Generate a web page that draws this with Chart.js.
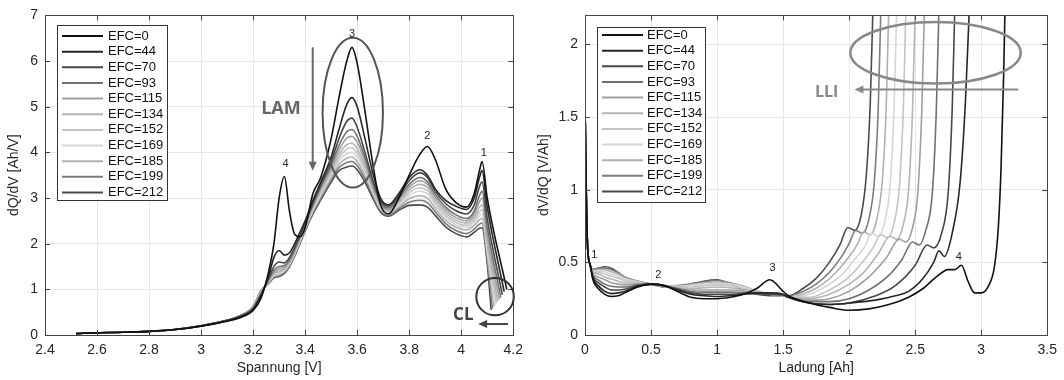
<!DOCTYPE html>
<html>
<head>
<meta charset="utf-8">
<script src="https://cdn.jsdelivr.net/npm/chart.js@4.4.0/dist/chart.umd.min.js"></script>
<style>
  html, body { margin: 0; padding: 0; background: #fff; }
  #wrap { position: relative; width: 1064px; height: 380px; }
  #left { position: absolute; left: 0; top: 0; }
  #right { position: absolute; left: 530px; top: 0; }
</style>
</head>
<body>
<div id="wrap">
  <canvas id="left" width="530" height="380"></canvas>
  <canvas id="right" width="534" height="380"></canvas>
</div>
<script>
const efcLabels = ["EFC=0", "EFC=44", "EFC=70", "EFC=93", "EFC=115", "EFC=134", "EFC=152", "EFC=169", "EFC=185", "EFC=199", "EFC=212"];
const efcColors = ["#111111", "#262626", "#474747", "#707070", "#a0a0a0", "#b4b4b4", "#c4c4c4", "#d6d6d6", "#b0b0b0", "#7c7c7c", "#4a4a4a"];

// left panel: dQ/dV over voltage
const voltage = [2.52, 2.6, 2.7, 2.8, 2.9, 3.0, 3.1, 3.15, 3.2, 3.23, 3.26, 3.28, 3.30, 3.32, 3.34, 3.36, 3.38, 3.40, 3.43, 3.46,
  3.50, 3.53, 3.56, 3.58, 3.60, 3.63, 3.66, 3.69, 3.72, 3.76, 3.80, 3.84, 3.87, 3.90, 3.94, 3.98, 4.02, 4.05, 4.07, 4.08, 4.10];
const dqdv = [
  [0.03,0.05,0.06,0.08,0.12,0.19,0.30,0.38,0.54,0.80,1.40,2.00,3.00,3.47,2.70,2.20,2.15,2.35,3.10,3.45,4.30,5.20,6.00,6.30,5.95,4.90,3.75,2.85,2.65,3.00,3.50,3.95,4.13,3.85,3.20,2.90,2.80,3.10,3.60,3.80,3.00],
  [0.03,0.05,0.06,0.08,0.12,0.20,0.31,0.40,0.56,0.85,1.30,1.70,1.85,1.75,1.80,2.00,2.25,2.50,2.95,3.35,3.90,4.50,5.05,5.20,5.00,4.30,3.55,3.00,2.85,3.10,3.45,3.62,3.50,3.20,2.95,2.82,2.75,3.00,3.45,3.60,2.80],
  [0.03,0.05,0.06,0.08,0.12,0.20,0.32,0.41,0.58,0.88,1.25,1.50,1.60,1.58,1.70,1.92,2.18,2.45,2.90,3.30,3.80,4.30,4.68,4.75,4.55,4.00,3.40,2.95,2.82,3.05,3.38,3.55,3.45,3.15,2.88,2.72,2.65,2.85,3.25,3.35,2.55],
  [0.03,0.05,0.06,0.08,0.12,0.20,0.32,0.41,0.59,0.90,1.22,1.42,1.50,1.52,1.65,1.88,2.15,2.42,2.86,3.25,3.72,4.15,4.45,4.50,4.35,3.88,3.32,2.90,2.78,3.00,3.30,3.45,3.36,3.08,2.80,2.63,2.55,2.72,3.05,3.15,2.35],
  [0.03,0.05,0.06,0.08,0.12,0.20,0.32,0.42,0.60,0.91,1.20,1.38,1.45,1.48,1.62,1.85,2.12,2.40,2.83,3.20,3.66,4.05,4.31,4.35,4.22,3.80,3.27,2.87,2.75,2.96,3.24,3.38,3.30,3.02,2.74,2.57,2.50,2.65,2.92,3.00,2.20],
  [0.03,0.05,0.06,0.08,0.12,0.20,0.32,0.42,0.60,0.92,1.18,1.35,1.40,1.45,1.60,1.83,2.10,2.38,2.80,3.16,3.60,3.95,4.17,4.20,4.08,3.70,3.22,2.84,2.72,2.92,3.18,3.30,3.23,2.96,2.68,2.51,2.45,2.58,2.80,2.85,2.05],
  [0.03,0.05,0.06,0.08,0.12,0.20,0.32,0.42,0.61,0.93,1.17,1.33,1.38,1.43,1.58,1.81,2.08,2.36,2.77,3.12,3.55,3.88,4.07,4.10,3.98,3.63,3.18,2.81,2.70,2.88,3.12,3.22,3.16,2.90,2.62,2.46,2.40,2.52,2.70,2.75,1.95],
  [0.03,0.05,0.06,0.08,0.12,0.20,0.32,0.42,0.61,0.94,1.16,1.31,1.35,1.41,1.56,1.79,2.06,2.34,2.74,3.08,3.50,3.81,3.97,4.00,3.89,3.56,3.14,2.78,2.68,2.85,3.06,3.15,3.09,2.85,2.57,2.41,2.35,2.46,2.61,2.65,1.85],
  [0.03,0.05,0.06,0.08,0.12,0.20,0.32,0.42,0.62,0.95,1.15,1.29,1.32,1.39,1.54,1.77,2.04,2.32,2.71,3.04,3.45,3.74,3.87,3.90,3.80,3.49,3.10,2.75,2.65,2.81,2.99,3.05,3.00,2.78,2.51,2.36,2.30,2.40,2.52,2.55,1.75],
  [0.03,0.05,0.06,0.08,0.12,0.20,0.32,0.42,0.62,0.96,1.14,1.27,1.30,1.37,1.52,1.75,2.02,2.30,2.68,3.00,3.40,3.67,3.78,3.80,3.71,3.42,3.05,2.72,2.62,2.77,2.91,2.95,2.90,2.70,2.44,2.29,2.22,2.32,2.43,2.45,1.65],
  [0.03,0.05,0.06,0.08,0.12,0.20,0.32,0.42,0.63,0.97,1.13,1.25,1.28,1.35,1.50,1.73,2.00,2.28,2.65,2.96,3.35,3.60,3.68,3.70,3.62,3.35,3.00,2.69,2.60,2.73,2.84,2.85,2.80,2.62,2.37,2.22,2.15,2.25,2.34,2.35,1.55]
];
const endVoltage = [4.175, 4.165, 4.158, 4.152, 4.146, 4.14, 4.135, 4.13, 4.125, 4.12, 4.115];
const endDqdv = [1.0, 0.95, 0.88, 0.82, 0.78, 0.74, 0.70, 0.66, 0.62, 0.58, 0.55];

// right panel: dV/dQ over charge
const ladungHead = [0, 0.01, 0.02, 0.04, 0.06, 0.1, 0.15, 0.2, 0.25, 0.3, 0.4, 0.5, 0.6, 0.7, 0.8, 0.9, 1.0, 1.1, 1.2, 1.3, 1.4, 1.5];
const dvdqHead = [
  [1.60,0.95,0.60,0.48,0.38,0.32,0.28,0.265,0.27,0.29,0.33,0.35,0.34,0.30,0.26,0.25,0.25,0.26,0.28,0.32,0.38,0.30],
  [1.60,0.95,0.60,0.48,0.39,0.34,0.30,0.285,0.29,0.30,0.335,0.35,0.34,0.31,0.28,0.27,0.265,0.27,0.28,0.29,0.29,0.28],
  [1.60,0.95,0.60,0.48,0.40,0.36,0.33,0.31,0.31,0.315,0.34,0.35,0.34,0.315,0.29,0.28,0.28,0.28,0.285,0.285,0.28,0.275],
  [1.60,0.95,0.60,0.48,0.41,0.38,0.35,0.335,0.33,0.33,0.345,0.35,0.335,0.32,0.30,0.295,0.295,0.295,0.29,0.285,0.28,0.275],
  [1.60,0.95,0.60,0.48,0.42,0.40,0.38,0.36,0.35,0.345,0.35,0.345,0.335,0.32,0.31,0.31,0.31,0.31,0.30,0.29,0.28,0.27],
  [1.60,0.95,0.60,0.48,0.43,0.42,0.40,0.385,0.37,0.36,0.355,0.345,0.335,0.325,0.32,0.325,0.33,0.325,0.31,0.295,0.28,0.27],
  [1.60,0.95,0.60,0.48,0.43,0.43,0.42,0.405,0.39,0.375,0.36,0.345,0.335,0.33,0.33,0.34,0.345,0.34,0.32,0.30,0.28,0.27],
  [1.60,0.95,0.60,0.48,0.44,0.44,0.435,0.42,0.405,0.385,0.365,0.345,0.335,0.335,0.34,0.35,0.355,0.35,0.33,0.30,0.28,0.27],
  [1.60,0.95,0.60,0.48,0.44,0.45,0.45,0.435,0.42,0.395,0.37,0.35,0.335,0.335,0.345,0.36,0.365,0.355,0.335,0.305,0.28,0.27],
  [1.60,0.95,0.60,0.48,0.45,0.46,0.46,0.45,0.43,0.40,0.37,0.35,0.335,0.34,0.35,0.365,0.375,0.36,0.335,0.30,0.28,0.27],
  [1.60,0.95,0.60,0.48,0.45,0.46,0.47,0.46,0.43,0.40,0.37,0.35,0.33,0.33,0.35,0.37,0.38,0.35,0.31,0.28,0.27,0.27]
];
const ladungTail = [
  [1.54,1.7,1.85,2.0,2.15,2.3,2.45,2.56,2.66,2.75,2.8,2.85,2.9,2.95,3.0,3.05,3.1,3.13,3.15,3.17,3.18],
  [1.54,1.7,1.85,2.0,2.2,2.35,2.45,2.56,2.64,2.68,2.72,2.78,2.84,2.88,2.91],
  [1.54,1.7,1.85,2.0,2.2,2.35,2.5,2.59,2.64,2.7,2.75,2.78,2.80],
  [1.54,1.7,1.85,2.0,2.15,2.3,2.4,2.48,2.53,2.58,2.63,2.66,2.68],
  [1.54,1.7,1.85,2.0,2.15,2.28,2.38,2.43,2.48,2.52,2.55,2.57],
  [1.54,1.7,1.85,2.0,2.12,2.22,2.31,2.36,2.41,2.45,2.48,2.50],
  [1.54,1.7,1.85,2.0,2.1,2.18,2.24,2.29,2.34,2.38,2.41,2.43],
  [1.54,1.7,1.85,1.95,2.05,2.12,2.17,2.22,2.27,2.31,2.34,2.36],
  [1.54,1.7,1.8,1.9,2.0,2.06,2.11,2.16,2.21,2.25,2.28,2.30],
  [1.54,1.65,1.75,1.85,1.95,2.0,2.05,2.1,2.15,2.19,2.22,2.24],
  [1.54,1.65,1.75,1.85,1.93,1.99,2.04,2.09,2.13,2.16,2.18]
];
const dvdqTail = [
  [0.27,0.22,0.19,0.17,0.18,0.21,0.26,0.32,0.40,0.45,0.45,0.48,0.37,0.29,0.29,0.33,0.47,0.75,1.15,1.80,2.25],
  [0.26,0.22,0.21,0.22,0.24,0.27,0.30,0.39,0.50,0.58,0.54,0.70,1.05,1.60,2.25],
  [0.26,0.22,0.21,0.22,0.27,0.34,0.48,0.62,0.60,0.70,0.98,1.55,2.25],
  [0.26,0.23,0.23,0.25,0.31,0.41,0.52,0.64,0.62,0.72,0.98,1.55,2.25],
  [0.26,0.24,0.25,0.30,0.40,0.53,0.66,0.64,0.74,0.98,1.55,2.25],
  [0.26,0.25,0.28,0.35,0.44,0.56,0.68,0.66,0.76,1.00,1.55,2.25],
  [0.26,0.26,0.31,0.40,0.50,0.60,0.69,0.67,0.77,1.02,1.55,2.25],
  [0.26,0.28,0.35,0.42,0.53,0.61,0.70,0.68,0.78,1.03,1.55,2.25],
  [0.26,0.30,0.35,0.43,0.54,0.62,0.71,0.69,0.80,1.05,1.55,2.25],
  [0.27,0.30,0.35,0.43,0.55,0.63,0.72,0.70,0.80,1.05,1.55,2.25],
  [0.27,0.32,0.39,0.50,0.62,0.74,0.72,0.82,1.10,1.60,2.25]
];

const voltTicks = [2.4, 2.6, 2.8, 3.0, 3.2, 3.4, 3.6, 3.8, 4.0, 4.2];
const dqdvTicks = [0, 1, 2, 3, 4, 5, 6, 7];
const ladungTicks = [0, 0.5, 1, 1.5, 2, 2.5, 3, 3.5];
const dvdqTicks = [0, 0.5, 1, 1.5, 2];

const axisFont = { family: "'Liberation Sans', Arial, sans-serif", size: 14 };
const fmt = v => String(Math.round(v * 10) / 10);

function line(ctx, x1, y1, x2, y2) {
  ctx.beginPath();
  ctx.moveTo(x1, y1);
  ctx.lineTo(x2, y2);
  ctx.stroke();
}

// frame, inward ticks, boxed legend and annotations
const framePlugin = {
  id: "frame",
  afterDatasetsDraw(chart, args, opts) {
    const { ctx, chartArea: a, scales: { x, y } } = chart;
    ctx.save();
    ctx.strokeStyle = "#444";
    ctx.lineWidth = 1;
    x.ticks.forEach(t => {
      const px = Math.round(x.getPixelForValue(t.value)) + 0.5;
      line(ctx, px, a.bottom, px, a.bottom - 5);
      line(ctx, px, a.top, px, a.top + 5);
    });
    y.ticks.forEach(t => {
      const py = Math.round(y.getPixelForValue(t.value)) + 0.5;
      line(ctx, a.left, py, a.left + 5, py);
      line(ctx, a.right, py, a.right - 5, py);
    });
    ctx.strokeRect(Math.round(a.left) + 0.5, Math.round(a.top) + 0.5, Math.round(a.width), Math.round(a.height));

    // legend
    const lg = opts.legend;
    const x0 = Math.round(a.left + lg.dx), y0 = Math.round(a.top + lg.dy);
    ctx.fillStyle = "#fff";
    ctx.fillRect(x0, y0, lg.w, lg.h);
    ctx.strokeStyle = "#333";
    ctx.strokeRect(x0 + 0.5, y0 + 0.5, lg.w, lg.h);
    ctx.font = "13px 'Liberation Sans', Arial, sans-serif";
    ctx.textBaseline = "middle";
    ctx.textAlign = "left";
    chart.data.datasets.forEach((ds, i) => {
      const yy = y0 + lg.first + i * 15.65;
      ctx.strokeStyle = ds.borderColor;
      ctx.lineWidth = 2;
      line(ctx, x0 + 5, yy, x0 + 46, yy);
      ctx.fillStyle = "#111";
      ctx.fillText(ds.label, x0 + lg.text, yy);
    });

    // annotations
    opts.notes.forEach(n => {
      ctx.strokeStyle = n.color;
      ctx.fillStyle = n.color;
      if (n.type === "ellipse") {
        const cx = x.getPixelForValue(n.x), cy = y.getPixelForValue(n.y);
        const rx = Math.abs(x.getPixelForValue(n.x + n.rx) - cx);
        const ry = Math.abs(y.getPixelForValue(n.y + n.ry) - cy);
        ctx.lineWidth = n.width;
        ctx.beginPath();
        ctx.ellipse(cx, cy, rx, ry, 0, 0, Math.PI * 2);
        ctx.stroke();
      } else if (n.type === "arrow") {
        const x1 = x.getPixelForValue(n.x1), y1 = y.getPixelForValue(n.y1);
        const x2 = x.getPixelForValue(n.x2), y2 = y.getPixelForValue(n.y2);
        const ang = Math.atan2(y2 - y1, x2 - x1);
        ctx.lineWidth = n.width;
        line(ctx, x1, y1, x2 - 6 * Math.cos(ang), y2 - 6 * Math.sin(ang));
        ctx.beginPath();
        ctx.moveTo(x2, y2);
        ctx.lineTo(x2 - 9 * Math.cos(ang) + 4 * Math.sin(ang), y2 - 9 * Math.sin(ang) - 4 * Math.cos(ang));
        ctx.lineTo(x2 - 9 * Math.cos(ang) - 4 * Math.sin(ang), y2 - 9 * Math.sin(ang) + 4 * Math.cos(ang));
        ctx.closePath();
        ctx.fill();
      } else {
        ctx.font = n.font;
        ctx.textAlign = "center";
        ctx.textBaseline = "middle";
        ctx.fillText(n.text, x.getPixelForValue(n.x), y.getPixelForValue(n.y));
      }
    });
    ctx.restore();
  }
};

function makeScales(xMin, xMax, xTicks, xTitle, yMin, yMax, yTicks, yTitle, yWidth) {
  return {
    x: {
      type: "linear",
      min: xMin,
      max: xMax,
      afterBuildTicks: s => { s.ticks = xTicks.map(v => ({ value: v })); },
      afterFit: s => { s.height = 45; },
      grid: { color: "#e6e6e6", drawTicks: false },
      border: { display: false },
      ticks: { color: "#262626", font: axisFont, padding: 7, maxRotation: 0, autoSkip: false, callback: fmt },
      title: { display: true, text: xTitle, color: "#262626", font: axisFont, padding: { top: 0, bottom: 3 } }
    },
    y: {
      type: "linear",
      min: yMin,
      max: yMax,
      afterBuildTicks: s => { s.ticks = yTicks.map(v => ({ value: v })); },
      afterFit: s => { s.width = yWidth; },
      grid: { color: "#e6e6e6", drawTicks: false },
      border: { display: false },
      ticks: { color: "#262626", font: axisFont, padding: 7, autoSkip: false, callback: fmt },
      title: { display: true, text: yTitle, color: "#262626", font: axisFont, padding: { top: 6, bottom: 4 } }
    }
  };
}

function lineDataset(i, points) {
  return {
    label: efcLabels[i],
    data: points,
    borderColor: efcColors[i],
    borderWidth: 1.6,
    pointRadius: 0,
    fill: false,
    cubicInterpolationMode: "monotone"
  };
}

const leftSets = efcLabels.map((_, i) => {
  const pts = voltage.map((v, k) => ({ x: v, y: dqdv[i][k] }));
  pts.push({ x: endVoltage[i], y: endDqdv[i] });
  return lineDataset(i, pts);
});

const rightSets = efcLabels.map((_, i) => {
  const pts = ladungHead.map((q, k) => ({ x: q, y: dvdqHead[i][k] }));
  ladungTail[i].forEach((q, k) => pts.push({ x: q, y: dvdqTail[i][k] }));
  return lineDataset(i, pts);
});

const bold = size => "bold " + size + "px 'Open Sans', 'Liberation Sans', sans-serif";
const small = "11px 'Liberation Sans', Arial, sans-serif";

new Chart(document.getElementById("left"), {
  type: "line",
  data: { datasets: leftSets },
  options: {
    responsive: false,
    animation: false,
    layout: { padding: { left: 0, right: 12, top: 10, bottom: 0 } },
    scales: makeScales(2.4, 4.2, voltTicks, "Spannung [V]", 0, 7, dqdvTicks, "dQ/dV [Ah/V]", 45),
    plugins: {
      legend: { display: false },
      tooltip: { enabled: false },
      frame: {
        legend: { dx: 12, dy: 10, w: 110, h: 175, first: 11, text: 51 },
        notes: [
          { type: "ellipse", x: 3.583, y: 4.87, rx: 0.116, ry: 1.64, color: "#555", width: 2 },
          { type: "arrow", x1: 3.429, y1: 6.3, x2: 3.429, y2: 3.6, color: "#666", width: 2 },
          { type: "text", x: 3.307, y: 4.95, text: "LAM", font: bold(18), color: "#666" },
          { type: "ellipse", x: 4.13, y: 0.84, rx: 0.072, ry: 0.41, color: "#333", width: 2 },
          { type: "text", x: 4.008, y: 0.43, text: "CL", font: bold(17), color: "#444" },
          { type: "arrow", x1: 4.18, y1: 0.24, x2: 4.065, y2: 0.24, color: "#444", width: 2 },
          { type: "text", x: 3.58, y: 6.6, text: "3", font: small, color: "#222" },
          { type: "text", x: 3.87, y: 4.37, text: "2", font: small, color: "#222" },
          { type: "text", x: 4.087, y: 3.99, text: "1", font: small, color: "#222" },
          { type: "text", x: 3.325, y: 3.75, text: "4", font: small, color: "#222" }
        ]
      }
    }
  },
  plugins: [framePlugin]
});

new Chart(document.getElementById("right"), {
  type: "line",
  data: { datasets: rightSets },
  options: {
    responsive: false,
    animation: false,
    layout: { padding: { left: 0, right: 12, top: 8, bottom: 0 } },
    scales: makeScales(0, 3.5, ladungTicks, "Ladung [Ah]", 0, 2.2, dvdqTicks, "dV/dQ [V/Ah]", 55),
    plugins: {
      legend: { display: false },
      tooltip: { enabled: false },
      frame: {
        legend: { dx: 12, dy: 12, w: 108, h: 175, first: 8, text: 50 },
        notes: [
          { type: "ellipse", x: 2.654, y: 1.943, rx: 0.645, ry: 0.212, color: "#888", width: 2.5 },
          { type: "arrow", x1: 3.28, y1: 1.69, x2: 2.04, y2: 1.69, color: "#888", width: 2 },
          { type: "text", x: 1.83, y: 1.67, text: "LLI", font: bold(16), color: "#888" },
          { type: "text", x: 0.07, y: 0.55, text: "1", font: small, color: "#222" },
          { type: "text", x: 0.555, y: 0.41, text: "2", font: small, color: "#222" },
          { type: "text", x: 1.42, y: 0.46, text: "3", font: small, color: "#222" },
          { type: "text", x: 2.83, y: 0.54, text: "4", font: small, color: "#222" }
        ]
      }
    }
  },
  plugins: [framePlugin]
});
</script>
</body>
</html>
